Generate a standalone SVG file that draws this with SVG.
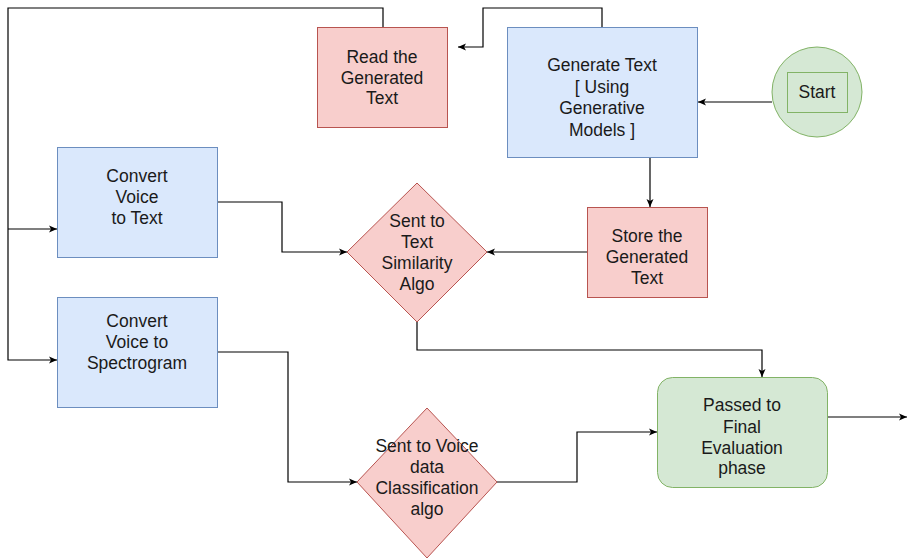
<svg xmlns="http://www.w3.org/2000/svg" width="917" height="558" viewBox="0 0 917 558">
  <defs>
    <marker id="arrow" markerUnits="userSpaceOnUse" markerWidth="9" markerHeight="8" refX="8" refY="4" orient="auto">
      <path d="M0,0.5 L8,4 L0,7.5 L2,4 Z" fill="#000"/>
    </marker>
    <style>
      .blue { fill: #dae8fc; stroke: #6c8ebf; stroke-width: 1; }
      .red { fill: #f8cecc; stroke: #b85450; stroke-width: 1; }
      .green { fill: #d5e8d4; stroke: #82b366; stroke-width: 1; }
      .lbl { font-family: "Liberation Sans", Arial, sans-serif; font-size: 17.5px; fill: #1a1a1a; text-anchor: middle; }
      .edge { fill: none; stroke: #000; stroke-width: 1.2; }
    </style>
  </defs>
  <rect width="917" height="558" fill="#fff"/>

  <g id="connectors">
    <path class="edge" d="M383,27 V8 H8 V360 H57" marker-end="url(#arrow)"/>
    <path class="edge" d="M8,229 H57" marker-end="url(#arrow)"/>
    <path class="edge" d="M602,27 V8 H483 V47 H458" marker-end="url(#arrow)"/>
    <path class="edge" d="M772,102 H698" marker-end="url(#arrow)"/>
    <path class="edge" d="M650,157 V207" marker-end="url(#arrow)"/>
    <path class="edge" d="M587,252 H487" marker-end="url(#arrow)"/>
    <path class="edge" d="M217,202 H282 V252 H347" marker-end="url(#arrow)"/>
    <path class="edge" d="M217,352 H288 V482 H357" marker-end="url(#arrow)"/>
    <path class="edge" d="M417,322 V350 H762 V377" marker-end="url(#arrow)"/>
    <path class="edge" d="M497,482 H577 V432 H657" marker-end="url(#arrow)"/>
    <path class="edge" d="M828,417 H907" marker-end="url(#arrow)"/>
  </g>

  <g id="read-text">
    <rect class="red" x="317.5" y="27.5" width="130" height="100"/>
    <text class="lbl" x="382" y="63">Read the</text>
    <text class="lbl" x="382" y="84">Generated</text>
    <text class="lbl" x="382" y="104">Text</text>
  </g>

  <g id="generate-text">
    <rect class="blue" x="507.5" y="27.5" width="190" height="130"/>
    <text class="lbl" x="602" y="71">Generate Text</text>
    <text class="lbl" x="602" y="93">[ Using</text>
    <text class="lbl" x="602" y="114">Generative</text>
    <text class="lbl" x="602" y="136">Models ]</text>
  </g>

  <g id="start">
    <circle class="green" cx="817" cy="92" r="45"/>
    <rect class="green" x="787.5" y="72.5" width="60" height="40"/>
    <text class="lbl" x="817" y="98">Start</text>
  </g>

  <g id="convert-voice-text">
    <rect class="blue" x="57.5" y="147.5" width="160" height="110"/>
    <text class="lbl" x="137" y="182">Convert</text>
    <text class="lbl" x="137" y="203">Voice</text>
    <text class="lbl" x="137" y="224">to Text</text>
  </g>

  <g id="convert-voice-spectrogram">
    <rect class="blue" x="57.5" y="297.5" width="160" height="110"/>
    <text class="lbl" x="137" y="327">Convert</text>
    <text class="lbl" x="137" y="348">Voice to</text>
    <text class="lbl" x="137" y="369">Spectrogram</text>
  </g>

  <g id="text-similarity">
    <polygon class="red" points="417,183 487,252 417,322 347,252"/>
    <text class="lbl" x="417" y="227">Sent to</text>
    <text class="lbl" x="417" y="248">Text</text>
    <text class="lbl" x="417" y="269">Similarity</text>
    <text class="lbl" x="417" y="290">Algo</text>
  </g>

  <g id="store-text">
    <rect class="red" x="587.5" y="207.5" width="120" height="90"/>
    <text class="lbl" x="647" y="242">Store the</text>
    <text class="lbl" x="647" y="263">Generated</text>
    <text class="lbl" x="647" y="284">Text</text>
  </g>

  <g id="voice-classification">
    <polygon class="red" points="427,408 497,482 427,558 357,482"/>
    <text class="lbl" x="427" y="452">Sent to Voice</text>
    <text class="lbl" x="427" y="473">data</text>
    <text class="lbl" x="427" y="494">Classification</text>
    <text class="lbl" x="427" y="515">algo</text>
  </g>

  <g id="final-evaluation">
    <rect class="green" x="657.5" y="377.5" width="170" height="110" rx="15" ry="15"/>
    <text class="lbl" x="742" y="411">Passed to</text>
    <text class="lbl" x="742" y="433">Final</text>
    <text class="lbl" x="742" y="454">Evaluation</text>
    <text class="lbl" x="742" y="474">phase</text>
  </g>
</svg>
